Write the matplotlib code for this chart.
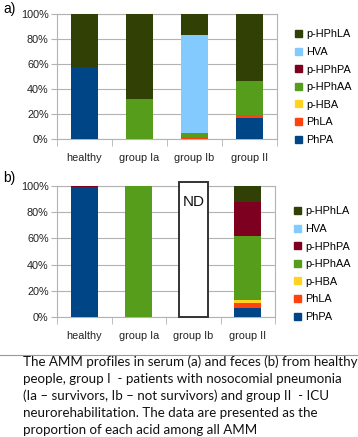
import numpy as np
import matplotlib.pyplot as plt
from matplotlib.patches import Patch

groups = ['healthy', 'group Ia', 'group Ib', 'group II']
acids = ['PhPA', 'PhLA', 'p-HBA', 'p-HPhAA', 'p-HPhPA', 'HVA', 'p-HPhLA']
colors = ['#004586', '#ff420e', '#ffd320', '#579d1c', '#7e0021', '#83caff', '#314004']

# serum (a), % of all AMM, order as in acids
serum_PhPA = [57.5, 0, 0, 17]
serum_PhLA = [0, 0, 1.5, 2.5]
serum_pHBA = [0, 0, 0, 0]
serum_pHPhAA = [0, 32, 3, 27]
serum_pHPhPA = [0, 0, 0, 0]
serum_HVA = [0, 0, 79, 0]
serum_pHPhLA = [42.5, 68, 16.5, 53.5]

# feces (b); group Ib not determined
feces_PhPA = [99, 0, 0, 6.5]
feces_PhLA = [0, 0, 0, 4.5]
feces_pHBA = [0, 0, 0, 1.7]
feces_pHPhAA = [0, 100, 0, 49]
feces_pHPhPA = [1, 0, 0, 26]
feces_HVA = [0, 0, 0, 0]
feces_pHPhLA = [0, 0, 0, 12.3]
nd_group = 'group Ib'
nd_height = 103

serum = [serum_PhPA, serum_PhLA, serum_pHBA, serum_pHPhAA, serum_pHPhPA, serum_HVA, serum_pHPhLA]
feces = [feces_PhPA, feces_PhLA, feces_pHBA, feces_pHPhAA, feces_pHPhPA, feces_HVA, feces_pHPhLA]

caption = ('The AMM profiles in serum (a) and feces (b) from healthy\n'
           'people, group I  - patients with nosocomial pneumonia\n'
           '(Ia \u2013 survivors, Ib \u2013 not survivors) and group II  - ICU\n'
           'neurorehabilitation. The data are presented as the\n'
           'proportion of each acid among all AMM')

plt.rcParams['font.family'] = ['Liberation Sans', 'DejaVu Sans']
W, H = 358, 437
fig = plt.figure(figsize=(W / 100, H / 100), dpi=100)

def px_axes(l, t, r, b):
    return fig.add_axes([l / W, 1 - b / H, (r - l) / W, (b - t) / H])

def draw(ax, data):
    x = np.arange(len(groups))
    bottom = np.zeros(len(groups))
    for vals, c in zip(data, colors):
        ax.bar(x, vals, 0.5, bottom=bottom, color=c, zorder=3)
        bottom += np.array(vals)
    ax.set_xlim(-0.5, len(groups) - 0.5)
    ax.set_ylim(0, 100)
    ax.set_yticks(range(0, 101, 20))
    ax.set_yticklabels([f'{v}%' for v in range(0, 101, 20)], fontsize=7.8, color='#222222')
    ax.yaxis.grid(True, color='#b3b3b3', linewidth=0.8, zorder=0)
    ax.set_xticks(x)
    ax.set_xticklabels(groups, fontsize=7.8, color='#222222')
    ax.set_xticks(np.arange(len(groups) + 1) - 0.5, minor=True)
    ax.tick_params(axis='x', which='major', length=0, pad=10)
    ax.tick_params(axis='x', which='minor', length=5, color='#b3b3b3')
    ax.tick_params(axis='y', length=4, color='#b3b3b3', pad=2)
    for s in ax.spines.values():
        s.set_color('#b3b3b3')
        s.set_linewidth(0.8)
    handles = [Patch(color=c, label=a) for a, c in zip(acids, colors)][::-1]
    return handles

ax1 = px_axes(57, 14, 277, 139)
h = draw(ax1, serum)
fig.legend(handles=h, loc='upper left', bbox_to_anchor=(290 / W, 1 - 24 / H), frameon=False,
           fontsize=7.8, handlelength=0.6, handleheight=0.6, handletextpad=0.4,
           labelspacing=0.7, borderpad=0)

ax2 = px_axes(57, 186, 275, 317)
h = draw(ax2, feces)
i = groups.index(nd_group)
ax2.bar(i, nd_height, 0.54, color='white', edgecolor='#333333', linewidth=1.4, zorder=4, clip_on=False)
ax2.text(i, 88, 'ND', ha='center', va='center', fontsize=11, color='#111111', zorder=5)
fig.legend(handles=h, loc='upper left', bbox_to_anchor=(289 / W, 1 - 201 / H), frameon=False,
           fontsize=7.8, handlelength=0.6, handleheight=0.6, handletextpad=0.4,
           labelspacing=0.7, borderpad=0)

fig.text(3 / W, 1 - 9 / H, 'a)', fontsize=10, va='center')
fig.text(3 / W, 1 - 178 / H, 'b)', fontsize=10, va='center')

fig.add_artist(plt.Line2D([0, 1], [1 - 355 / H] * 2, color='#999999', linewidth=0.8))
fig.text(23 / W, 1 - 355 / H, caption, fontsize=9.6, va='top', ha='left', color='#111111',
         family=['Lato', 'DejaVu Sans'], linespacing=1.5)

fig.savefig('out.png', dpi=100)
